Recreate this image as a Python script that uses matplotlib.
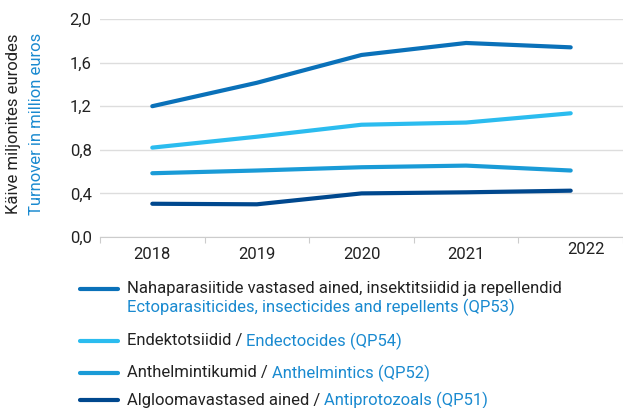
import matplotlib
matplotlib.use("Agg")
import matplotlib.pyplot as plt
from matplotlib import font_manager

names = {f.name for f in font_manager.fontManager.ttflist}
font = "Liberation Sans Narrow" if "Liberation Sans Narrow" in names else "Roboto"
plt.rcParams["font.family"] = [font, "DejaVu Sans"]

years = ["2018", "2019", "2020", "2021", "2022"]
ecto = [1.20, 1.415, 1.67, 1.78, 1.74]
endecto = [0.82, 0.92, 1.03, 1.05, 1.135]
anthel = [0.585, 0.61, 0.64, 0.655, 0.61]
antiproto = [0.305, 0.30, 0.40, 0.41, 0.425]

et_names = ["Nahaparasiitide vastased ained, insektitsiidid ja repellendid",
            "Endektotsiidid / ", "Anthelmintikumid / ", "Algloomavastased ained / "]
en_names = ["Ectoparasiticides, insecticides and repellents (QP53)",
            "Endectocides (QP54)", "Anthelmintics (QP52)", "Antiprotozoals (QP51)"]

colors = ["#0a71b9", "#2bbcef", "#1a9bd7", "#00488e"]
blue_txt = "#1a8ad0"
dark = "#222222"

fig = plt.figure(figsize=(6.23, 4.08), dpi=100)
ax = fig.add_axes([100 / 623, 1 - 237 / 408, 523 / 623, 218 / 408])

x = range(len(years))
for vals, c in zip([ecto, endecto, anthel, antiproto], colors):
    ax.plot(x, vals, color=c, lw=3, solid_capstyle="round")

ax.set_xlim(-0.5, 4.5)
ax.set_ylim(0, 2.0)
ax.set_yticks([0, 0.4, 0.8, 1.2, 1.6, 2.0])
ax.set_yticklabels(["0,0", "0,4", "0,8", "1,2", "1,6", "2,0"], fontsize=12, color=dark)
ax.set_xticks([i - 0.5 for i in range(6)])
ax.set_xticklabels([])
ax.tick_params(axis="x", length=4, color="#cccccc")
ax.tick_params(axis="y", length=0, pad=6)
for i, y in enumerate(years):
    if y == "2022":
        ax.text(i + 0.15, -0.045, y, ha="center", va="top", fontsize=12, color=dark)
    else:
        ax.text(i, -0.09, y, ha="center", va="top", fontsize=12, color=dark)

ax.grid(axis="y", color="#dddddd", lw=1)
ax.set_axisbelow(True)
for s in ["top", "right", "left"]:
    ax.spines[s].set_visible(False)
ax.spines["bottom"].set_color("#cccccc")

fig.text(14 / 623, 1 - 124 / 408, "Käive miljonites eurodes", rotation=90,
         ha="center", va="center", fontsize=12, color=dark)
fig.text(37 / 623, 1 - 124 / 408, "Turnover in million euros", rotation=90,
         ha="center", va="center", fontsize=12, color=blue_txt)

# legend drawn by hand below the plot
rows = [289, 341, 373, 400]
for i, (yy, c) in enumerate(zip(rows, colors)):
    fy = 1 - yy / 408
    fig.add_artist(plt.Line2D([80 / 623, 118 / 623], [fy, fy], color=c, lw=3,
                              solid_capstyle="round"))
    if i == 0:
        fig.text(127 / 623, fy, et_names[0], va="center", fontsize=12, color=dark)
        fig.text(127 / 623, 1 - 307 / 408, en_names[0], va="center", fontsize=12,
                 color=blue_txt)
    else:
        t = fig.text(127 / 623, fy, et_names[i], va="center", fontsize=12, color=dark)
        fig.canvas.draw()
        bb = t.get_window_extent()
        fig.text(bb.x1 / fig.bbox.width, fy, en_names[i], va="center", fontsize=12,
                 color=blue_txt)

fig.savefig("out.png", dpi=100)
